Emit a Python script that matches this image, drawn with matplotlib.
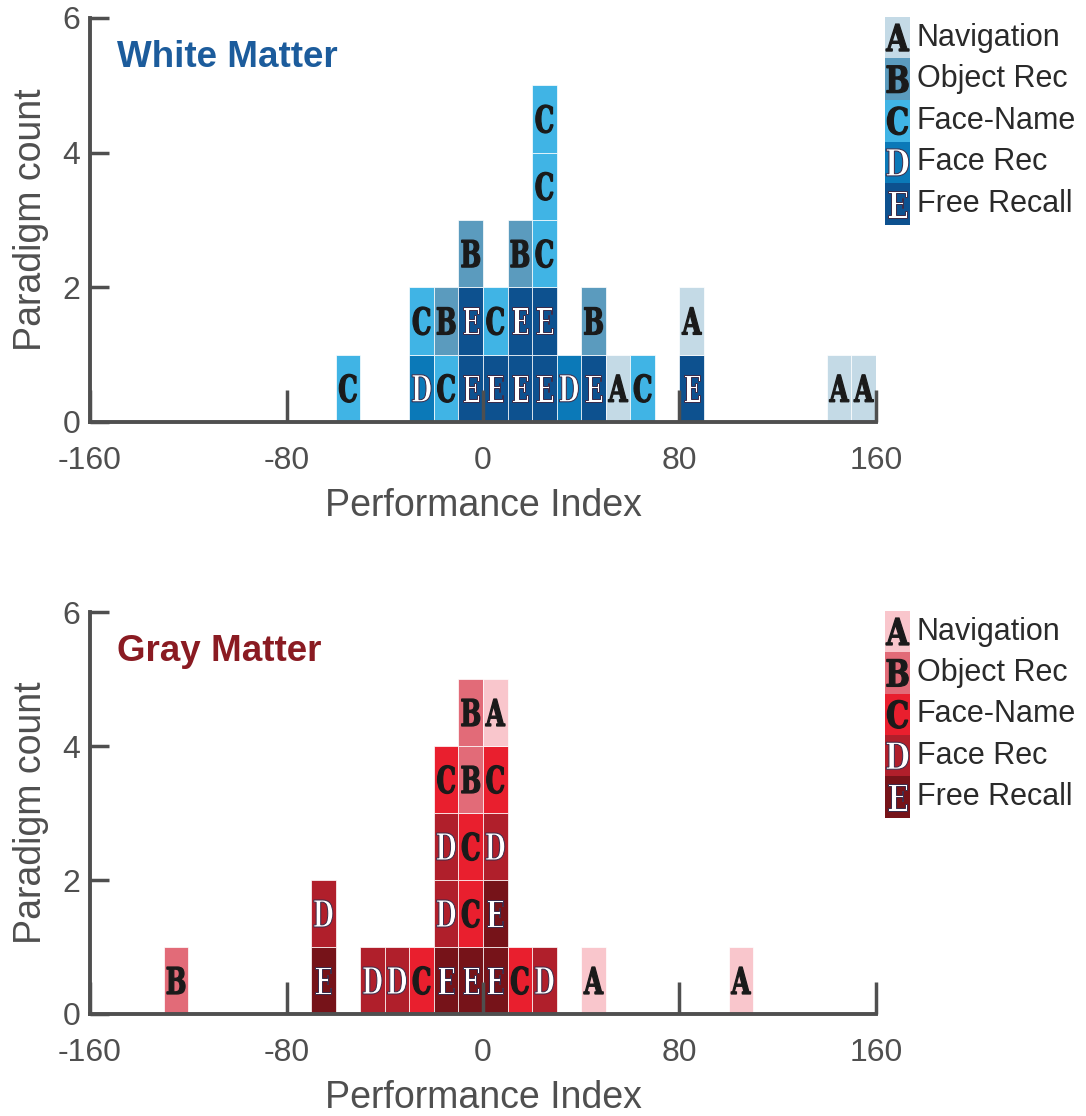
import matplotlib
matplotlib.use('Agg')
import matplotlib.pyplot as plt
from matplotlib.textpath import TextPath
from matplotlib.patches import PathPatch, Rectangle
from matplotlib.font_manager import FontProperties
from matplotlib.transforms import Affine2D, ScaledTranslation

plt.rcParams['font.family'] = ['Liberation Sans', 'DejaVu Sans']
plt.rcParams['axes.unicode_minus'] = False

# ------------------------ data ------------------------
letters = ['A', 'B', 'C', 'D', 'E']
paradigms = ['Navigation', 'Object Rec', 'Face-Name', 'Face Rec', 'Free Recall']

# left edge of each 10-wide bin and the stack of paradigms in it (bottom -> top)
white_bins = [-60, -30, -20, -10, 0, 10, 20, 30, 40, 50, 60, 80, 140, 150]
white_stacks = ['C', 'DC', 'CB', 'EEB', 'EC', 'EEB', 'EECCC', 'D', 'EB', 'A', 'C', 'EA', 'A', 'A']

gray_bins = [-130, -70, -50, -40, -30, -20, -10, 0, 10, 20, 40, 100]
gray_stacks = ['B', 'ED', 'D', 'D', 'C', 'EDDC', 'ECCBB', 'EEDCA', 'C', 'D', 'A', 'A']

bin_width = 10

white_colors = {'A': '#c4dae6', 'B': '#5b9bbe', 'C': '#40b4e5', 'D': '#0b79b8', 'E': '#0d518f'}
gray_colors = {'A': '#f9c6cc', 'B': '#e26b78', 'C': '#e91f2e', 'D': '#b01f2b', 'E': '#761319'}
letter_colors = {'A': '#1a1a1a', 'B': '#1a1a1a', 'C': '#1a1a1a', 'D': 'white', 'E': 'white'}

axis_gray = '#4f4f4f'
letter_font = FontProperties(family='DejaVu Serif', weight='bold')
ref_ext = TextPath((0, 0), 'H', size=100, prop=letter_font).get_extents()


def draw_letter(ax, x, y, letter, trans, height_px=27, squeeze=0.66, clip=True):
    tp = TextPath((0, 0), letter, size=100, prop=letter_font)
    ext = tp.get_extents()
    k = height_px / ref_ext.height
    cx = (ext.x0 + ext.x1) / 2
    cy = (ref_ext.y0 + ref_ext.y1) / 2
    tr = Affine2D().translate(-cx, -cy).scale(k * squeeze, k) + ScaledTranslation(x, y, trans)
    if letter_colors[letter] == 'white':
        edge, lw = '#3a2a48', 0.7
    else:
        edge, lw = '#1a1a1a', 0.9
    p = PathPatch(tp, transform=tr, facecolor=letter_colors[letter], edgecolor=edge,
                  lw=lw, zorder=4, clip_on=clip)
    ax.add_patch(p)


def draw_panel(ax, bins, stacks, colors, title, title_color):
    for left, stack in zip(bins, stacks):
        for level, letter in enumerate(stack):
            ax.bar(left, 1, bottom=level, width=bin_width, align='edge',
                   color=colors[letter], edgecolor='white', linewidth=0.5, zorder=1)
            draw_letter(ax, left + bin_width / 2, level + 0.5, letter, ax.transData)

    ax.set_xlim(-160, 160)
    ax.set_ylim(0, 6)
    ax.set_xticks([-160, -80, 0, 80, 160])
    ax.set_yticks([0, 2, 4, 6])
    for s in ['top', 'right']:
        ax.spines[s].set_visible(False)
    for s in ['left', 'bottom']:
        ax.spines[s].set_color(axis_gray)
        ax.spines[s].set_linewidth(2.8)
    ax.tick_params(axis='x', direction='in', length=23, width=2.5, color=axis_gray,
                   labelsize=23, labelcolor=axis_gray, pad=17)
    ax.tick_params(axis='y', direction='in', length=14, width=2.5, color=axis_gray,
                   labelsize=23, labelcolor=axis_gray, pad=7)
    ax.set_xlabel('Performance Index', fontsize=27, color=axis_gray, labelpad=9)
    ax.set_ylabel('Paradigm count', fontsize=27, color=axis_gray)
    ax.yaxis.set_label_coords(-0.052, 0.5)
    ax.text(0.034, 0.902, title, transform=ax.transAxes, fontsize=26.5, fontweight='bold',
            color=title_color, va='center', ha='left')

    # legend of colour cells with letters
    cell_h = 0.103
    for i, (letter, name) in enumerate(zip(letters, paradigms)):
        y0 = 1.003 - (i + 1) * cell_h
        ax.add_patch(Rectangle((1.0115, y0), 0.0318, cell_h, transform=ax.transAxes,
                               facecolor=colors[letter], edgecolor='none', clip_on=False))
        draw_letter(ax, 1.0115 + 0.0159, y0 + cell_h / 2, letter, ax.transAxes,
                    height_px=27, squeeze=0.78, clip=False)
        ax.text(1.052, y0 + cell_h / 2, name, transform=ax.transAxes, fontsize=22,
                color='#2a2a2a', va='center', ha='left')


fig = plt.figure(figsize=(10.86, 11.16), dpi=100)
ax1 = fig.add_axes([0.0829, 0.6219, 0.7237, 0.3620])
ax2 = fig.add_axes([0.0829, 0.0914, 0.7237, 0.3602])

draw_panel(ax1, white_bins, white_stacks, white_colors, 'White Matter', '#1c5c9c')
draw_panel(ax2, gray_bins, gray_stacks, gray_colors, 'Gray Matter', '#8a1b22')

fig.savefig('out.png', dpi=100)
